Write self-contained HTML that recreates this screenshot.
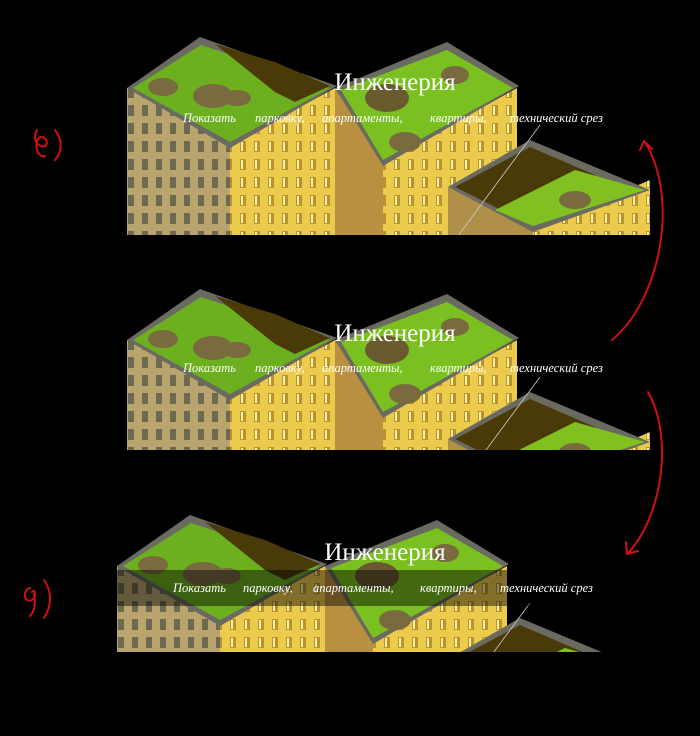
<!DOCTYPE html>
<html><head><meta charset="utf-8"><style>
html,body{margin:0;padding:0;background:#000;}
svg{display:block}
.t{font-family:"Liberation Serif",serif;fill:#fff;}
</style></head><body>
<svg width="700" height="736" viewBox="0 0 700 736" xmlns="http://www.w3.org/2000/svg">
<defs>
<pattern id="wl" width="14" height="18" patternUnits="userSpaceOnUse"><rect width="14" height="18" fill="#b8a46c"/><rect x="3" y="3" width="6" height="11" fill="#6e6a50"/></pattern>
<pattern id="wr" width="14" height="18" patternUnits="userSpaceOnUse"><rect width="14" height="18" fill="#ecca4c"/><rect x="3" y="3" width="6" height="11" fill="#b89430"/><rect x="4" y="4" width="2" height="9" fill="#fff2a0"/></pattern>
<g id="b">
 <polygon points="2,58 105,115 105,210 2,210" fill="url(#wl)"/>
 <polygon points="105,115 210,58 210,210 105,210" fill="url(#wr)"/>
 <polygon points="210,58 258,133 258,210 210,210" fill="#b89040"/>
 <polygon points="258,133 392,58 392,210 258,210" fill="url(#wr)"/>
 <polygon points="2,58 75,7 212,56 105,118" fill="#6a6a60"/>
 <polygon points="8,58 76,15 205,58 105,112" fill="#6cb020"/>
 <polygon points="90,14 150,32 205,56 170,72 150,62" fill="#4a3a08"/>
 <ellipse cx="38" cy="57" rx="15" ry="9" fill="#7a6a40"/>
 <ellipse cx="88" cy="66" rx="20" ry="12" fill="#7a6a40"/>
 <ellipse cx="112" cy="68" rx="14" ry="8" fill="#7a6a40"/>
 <polygon points="210,58 322,12 394,56 258,136" fill="#6a6a60"/>
 <polygon points="216,60 322,20 388,58 258,130" fill="#7ac020"/>
 <ellipse cx="262" cy="68" rx="22" ry="14" fill="#6a5a30"/>
 <ellipse cx="280" cy="112" rx="16" ry="10" fill="#7a6a40"/>
 <ellipse cx="330" cy="45" rx="14" ry="9" fill="#7a6a40"/>
 <polygon points="323,157 408,200 408,210 323,210" fill="#b09048"/>
 <polygon points="408,200 525,150 525,210 408,210" fill="url(#wr)"/>
 <polygon points="323,157 405,110 525,160 408,202" fill="#6a6a60"/>
 <polygon points="330,157 405,117 470,145 408,196" fill="#4a3a08"/>
 <polygon points="370,180 450,140 520,160 408,196" fill="#80c020"/>
 <ellipse cx="450" cy="170" rx="16" ry="9" fill="#7a6a40"/>
 <line x1="415" y1="95" x2="330" y2="210" stroke="#ccc" stroke-width="0.8"/>
</g>
<clipPath id="c1"><rect x="0" y="0" width="525" height="205"/></clipPath>
<clipPath id="c2"><rect x="0" y="0" width="525" height="168"/></clipPath>
<clipPath id="c3"><rect x="0" y="0" width="510" height="144"/></clipPath>
</defs>
<rect width="700" height="736" fill="#000"/>

<g transform="translate(125,30)"><g clip-path="url(#c1)"><use href="#b"/></g></g>
<g transform="translate(125,282)"><g clip-path="url(#c2)"><use href="#b"/></g></g>
<g transform="translate(115,508)"><g clip-path="url(#c3)"><use href="#b"/>
 <rect x="0" y="62" width="500" height="36" fill="#000" opacity="0.45"/></g></g>

<text class="t" x="395" y="90" font-size="25" text-anchor="middle">Инженерия</text>
<text class="t" x="183" y="122" font-size="12.5" font-style="italic">Показать</text>
<text class="t" x="255" y="122" font-size="12.5" font-style="italic">парковку,</text>
<text class="t" x="322" y="122" font-size="12.5" font-style="italic">апартаменты,</text>
<text class="t" x="430" y="122" font-size="12.5" font-style="italic">квартиры,</text>
<text class="t" x="510" y="122" font-size="12.5" font-style="italic">технический срез</text>
<text class="t" x="395" y="341" font-size="25" text-anchor="middle">Инженерия</text>
<text class="t" x="183" y="372" font-size="12.5" font-style="italic">Показать</text>
<text class="t" x="255" y="372" font-size="12.5" font-style="italic">парковку,</text>
<text class="t" x="322" y="372" font-size="12.5" font-style="italic">апартаменты,</text>
<text class="t" x="430" y="372" font-size="12.5" font-style="italic">квартиры,</text>
<text class="t" x="510" y="372" font-size="12.5" font-style="italic">технический срез</text>
<text class="t" x="385" y="560" font-size="25" text-anchor="middle">Инженерия</text>
<text class="t" x="173" y="592" font-size="12.5" font-style="italic">Показать</text>
<text class="t" x="243" y="592" font-size="12.5" font-style="italic">парковку,</text>
<text class="t" x="313" y="592" font-size="12.5" font-style="italic">апартаменты,</text>
<text class="t" x="420" y="592" font-size="12.5" font-style="italic">квартиры,</text>
<text class="t" x="500" y="592" font-size="12.5" font-style="italic">технический срез</text>

<g fill="none" stroke="#d01010" stroke-width="2" stroke-linecap="round">
 <path d="M612,340 C660,300 680,200 645,142"/>
 <path d="M640,150 L644,141 L652,149"/>
 <path d="M648,392 C675,440 660,520 628,553"/>
 <path d="M626,542 L627,554 L638,551"/>
 <path d="M37,130 C32,140 38,148 45,146 C50,143 44,134 39,138 C33,145 38,158 45,156 M55,130 C63,140 62,152 55,160"/>
 <path d="M30,588 C22,590 24,604 32,600 C37,596 35,588 32,592 M34,594 C36,605 34,612 30,616 M44,580 C52,592 52,605 44,618"/>
</g>
</svg>
</body></html>
